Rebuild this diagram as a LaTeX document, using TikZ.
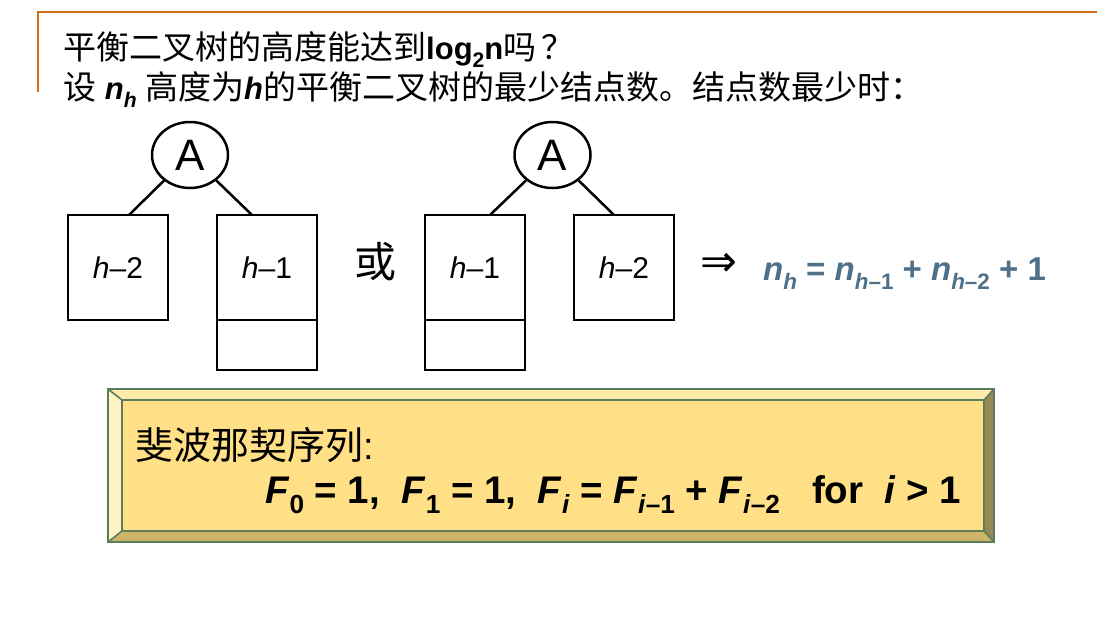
\documentclass[tikz,border=0pt]{standalone}
\usepackage{fontspec}
\setmainfont{Liberation Sans}
\newfontfamily\cjk{Noto Sans CJK SC}
\newfontfamily\dejavu{DejaVu Sans}
\usetikzlibrary{shapes.geometric,calc}
\definecolor{frameorange}{RGB}{210,110,20}
\definecolor{formulablue}{RGB}{78,112,136}
\definecolor{bevface}{RGB}{255,224,135}
\definecolor{bevtop}{RGB}{255,236,170}
\definecolor{bevleft}{RGB}{255,242,196}
\definecolor{bevbottom}{RGB}{205,180,105}
\definecolor{bevright}{RGB}{150,137,85}
\definecolor{bevline}{RGB}{92,124,92}
\newcommand{\sbs}[1]{\raisebox{-0.28em}{\scalebox{0.68}{#1}}}
\newcommand{\zh}{\cjk\fontsize{33}{35}\selectfont}
\tikzset{
  rootnode/.style={ellipse,draw,line width=2.5pt,minimum width=76pt,minimum height=66pt,inner sep=0pt,font=\fontsize{44}{48}\selectfont},
  subtree/.style={rectangle,draw,line width=2.5pt,minimum width=100pt,minimum height=105pt,inner sep=0pt,outer sep=0pt,font=\fontsize{30}{34}\selectfont},
  extrabox/.style={rectangle,draw,line width=2.5pt,minimum width=100pt,minimum height=50pt,inner sep=0pt,outer sep=0pt},
  edge/.style={line width=2.5pt},
  txt/.style={inner sep=0pt,anchor=base west,font=\fontsize{31}{34}\selectfont},
  bigtxt/.style={inner sep=0pt,anchor=base west,font=\fontsize{38}{42}\selectfont},
}
\begin{document}
\begin{tikzpicture}[x=1pt,y=-1pt]
\useasboundingbox (0,0) rectangle (1097,643);
% frame
\draw[frameorange,line width=2pt] (37.5,92) -- (37.5,12) -- (1097,12);
% title
\node[txt] (t1) at (63,59) {{\zh 平衡二叉树的高度能达到}\textbf{log\sbs{2}n}{\zh 吗\,？}};
\node[txt] (t2) at (63,99) {{\zh 设} \textbf{\textit{n}\sbs{\textit{h}}} {\zh 高度为}\textbf{\textit{h}}{\zh 的平衡二叉树的最少结点数。结点数最少时：}};
% left tree
\node[rootnode] (A1) at (190,155) {A};
\node[subtree] (b1) at (118,267.5) {\textit{h}–2};
\node[subtree] (b2) at (267,267.5) {\textit{h}–1};
\node[extrabox,anchor=north] (c2) at (b2.south) {};
\draw[edge] (A1) -- ([xshift=11pt]b1.north);
\draw[edge] (A1) -- ([xshift=-15pt]b2.north);
% or
\node[inner sep=0pt,font=\fontsize{42}{46}\selectfont\cjk] (or) at (375,262) {或};
% right tree
\node[rootnode] (A2) at (552.5,155) {A};
\node[subtree] (b3) at (475,267.5) {\textit{h}–1};
\node[subtree] (b4) at (624,267.5) {\textit{h}–2};
\node[extrabox,anchor=north] (c3) at (b3.south) {};
\draw[edge] (A2) -- ([xshift=15pt]b3.north);
\draw[edge] (A2) -- ([xshift=-10pt]b4.north);
% formula
\node[inner sep=0pt,font=\fontsize{44}{48}\selectfont\dejavu] (imp) at (719,265) {⇒};
\node[bigtxt,text=formulablue,font=\fontsize{33}{38}\selectfont] (nh) at (763,280) {\textbf{\textit{n}\sbs{\textit{h}} = \textit{n}\sbs{\textit{h}–1} + \textit{n}\sbs{\textit{h}–2} + 1}};
% bevel box
\coordinate (o1) at (108,389);
\coordinate (o2) at (994,389);
\coordinate (o3) at (994,542);
\coordinate (o4) at (108,542);
\coordinate (i1) at (122,400);
\coordinate (i2) at (984,400);
\coordinate (i3) at (984,531);
\coordinate (i4) at (122,531);
\fill[bevtop] (o1) -- (o2) -- (i2) -- (i1) -- cycle;
\fill[bevleft] (o1) -- (i1) -- (i4) -- (o4) -- cycle;
\fill[bevbottom] (o4) -- (i4) -- (i3) -- (o3) -- cycle;
\fill[bevright] (o2) -- (o3) -- (i3) -- (i2) -- cycle;
\fill[bevface] (i1) rectangle (i3);
\draw[bevline,line width=1.6pt] (i1) rectangle (i3);
\draw[bevline,line width=1.6pt] (o1) -- (i1) (o2) -- (i2) (o3) -- (i3) (o4) -- (i4);
\draw[bevline,line width=2.5pt] (o1) rectangle (o3);
\node[bigtxt] (fibh) at (135,459) {{\cjk 斐波那契序列}:};
\node[bigtxt,font=\fontsize{38.5}{42}\selectfont] (fib) at (265,503) {\textbf{\textit{F}\sbs{0} = 1,\ \ \textit{F}\sbs{1} = 1,\ \ \textit{F}\sbs{\textit{i}} = \textit{F}\sbs{\textit{i}–1} + \textit{F}\sbs{\textit{i}–2}\ \ \ for\ \ \textit{i} > 1}};
\end{tikzpicture}
\end{document}
